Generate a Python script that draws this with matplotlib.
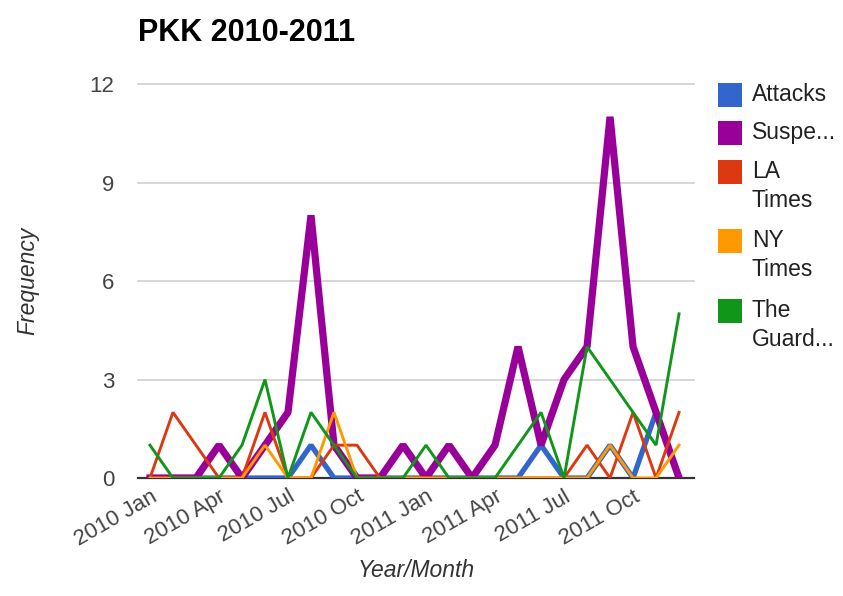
import matplotlib
matplotlib.use("Agg")
import matplotlib.pyplot as plt
from matplotlib.patches import Rectangle

plt.rcParams["font.family"] = ["Liberation Sans", "DejaVu Sans"]

# monthly counts, 2010 Jan .. 2011 Dec
months = ["2010 Jan", "2010 Feb", "2010 Mar", "2010 Apr", "2010 May", "2010 Jun",
          "2010 Jul", "2010 Aug", "2010 Sep", "2010 Oct", "2010 Nov", "2010 Dec",
          "2011 Jan", "2011 Feb", "2011 Mar", "2011 Apr", "2011 May", "2011 Jun",
          "2011 Jul", "2011 Aug", "2011 Sep", "2011 Oct", "2011 Nov", "2011 Dec"]
attacks = [0, 0, 0, 0, 0, 0, 0, 1, 0, 0, 0, 0, 0, 0, 0, 0, 0, 1, 0, 0, 1, 0, 2, 0]
suspected = [0, 0, 0, 1, 0, 1, 2, 8, 1, 0, 0, 1, 0, 1, 0, 1, 4, 1, 3, 4, 11, 4, 2, 0]
la_times = [0, 2, 1, 0, 0, 2, 0, 0, 1, 1, 0, 0, 0, 0, 0, 0, 0, 0, 0, 1, 0, 2, 0, 2]
ny_times = [0, 0, 0, 0, 0, 1, 0, 0, 2, 0, 0, 0, 0, 0, 0, 0, 0, 0, 0, 0, 1, 0, 0, 1]
guardian = [1, 0, 0, 0, 1, 3, 0, 2, 1, 0, 0, 0, 1, 0, 0, 0, 1, 2, 0, 4, 3, 2, 1, 5]

series_names = ["Attacks", "Suspe...", "LA\nTimes", "NY\nTimes", "The\nGuard..."]
series_values = [attacks, suspected, la_times, ny_times, guardian]
colors = ["#3366cc", "#990099", "#dc3912", "#ff9900", "#109618"]
widths = [3.8, 5.2, 2.1, 2.1, 2.1]

tick_months = months[::3]
y_ticks = [0, 3, 6, 9, 12]

W, H = 843, 596
fig = plt.figure(figsize=(W / 100, H / 100), dpi=100)
ax = fig.add_axes([138 / W, 1 - 478 / H, (694 - 138) / W, (478 - 84) / H])

x = list(range(len(months)))
for vals, col, lw in zip(series_values, colors, widths):
    ax.plot(x, vals, color=col, lw=lw, solid_joinstyle="bevel", zorder=3)

ax.set_xlim(-0.52, 23.65)
ax.set_ylim(0, 12)
ax.set_yticks(y_ticks)
ax.set_yticklabels([str(v) for v in y_ticks])
ax.set_xticks([months.index(m) for m in tick_months])
ax.set_xticklabels(tick_months, rotation=30, ha="right", rotation_mode="anchor")

for y in y_ticks[1:]:
    ax.axhline(y, color="#cccccc", lw=1.1, zorder=1, clip_on=False)
ax.axhline(0, color="#333333", lw=1.6, zorder=2, clip_on=False)

for s in ax.spines.values():
    s.set_visible(False)
ax.tick_params(axis="both", length=0, labelsize=16, labelcolor="#444444")
ax.tick_params(axis="y", pad=17)
ax.tick_params(axis="x", pad=6)

ax.set_xlabel("Year/Month", fontsize=16.5, style="italic", color="#333333", labelpad=6)
ax.set_ylabel("Frequency", fontsize=16.5, style="italic", color="#333333", labelpad=36)

fig.text(138 / W, 1 - 33 / H, "PKK 2010-2011", fontsize=22, fontweight="bold",
         ha="left", va="center", color="#000000")

# legend on the right
row_y = [95, 133, 172, 241, 311]
for name, col, yc in zip(series_names, colors, row_y):
    fig.add_artist(Rectangle((718 / W, 1 - (yc + 12) / H), 24 / W, 24 / H,
                             transform=fig.transFigure, facecolor=col,
                             edgecolor="none"))
    fig.text(752 / W, 1 - (yc - 12) / H, name, fontsize=16.5, color="#222222",
             ha="left", va="top", linespacing=1.35)

fig.savefig("out.png", dpi=100)
